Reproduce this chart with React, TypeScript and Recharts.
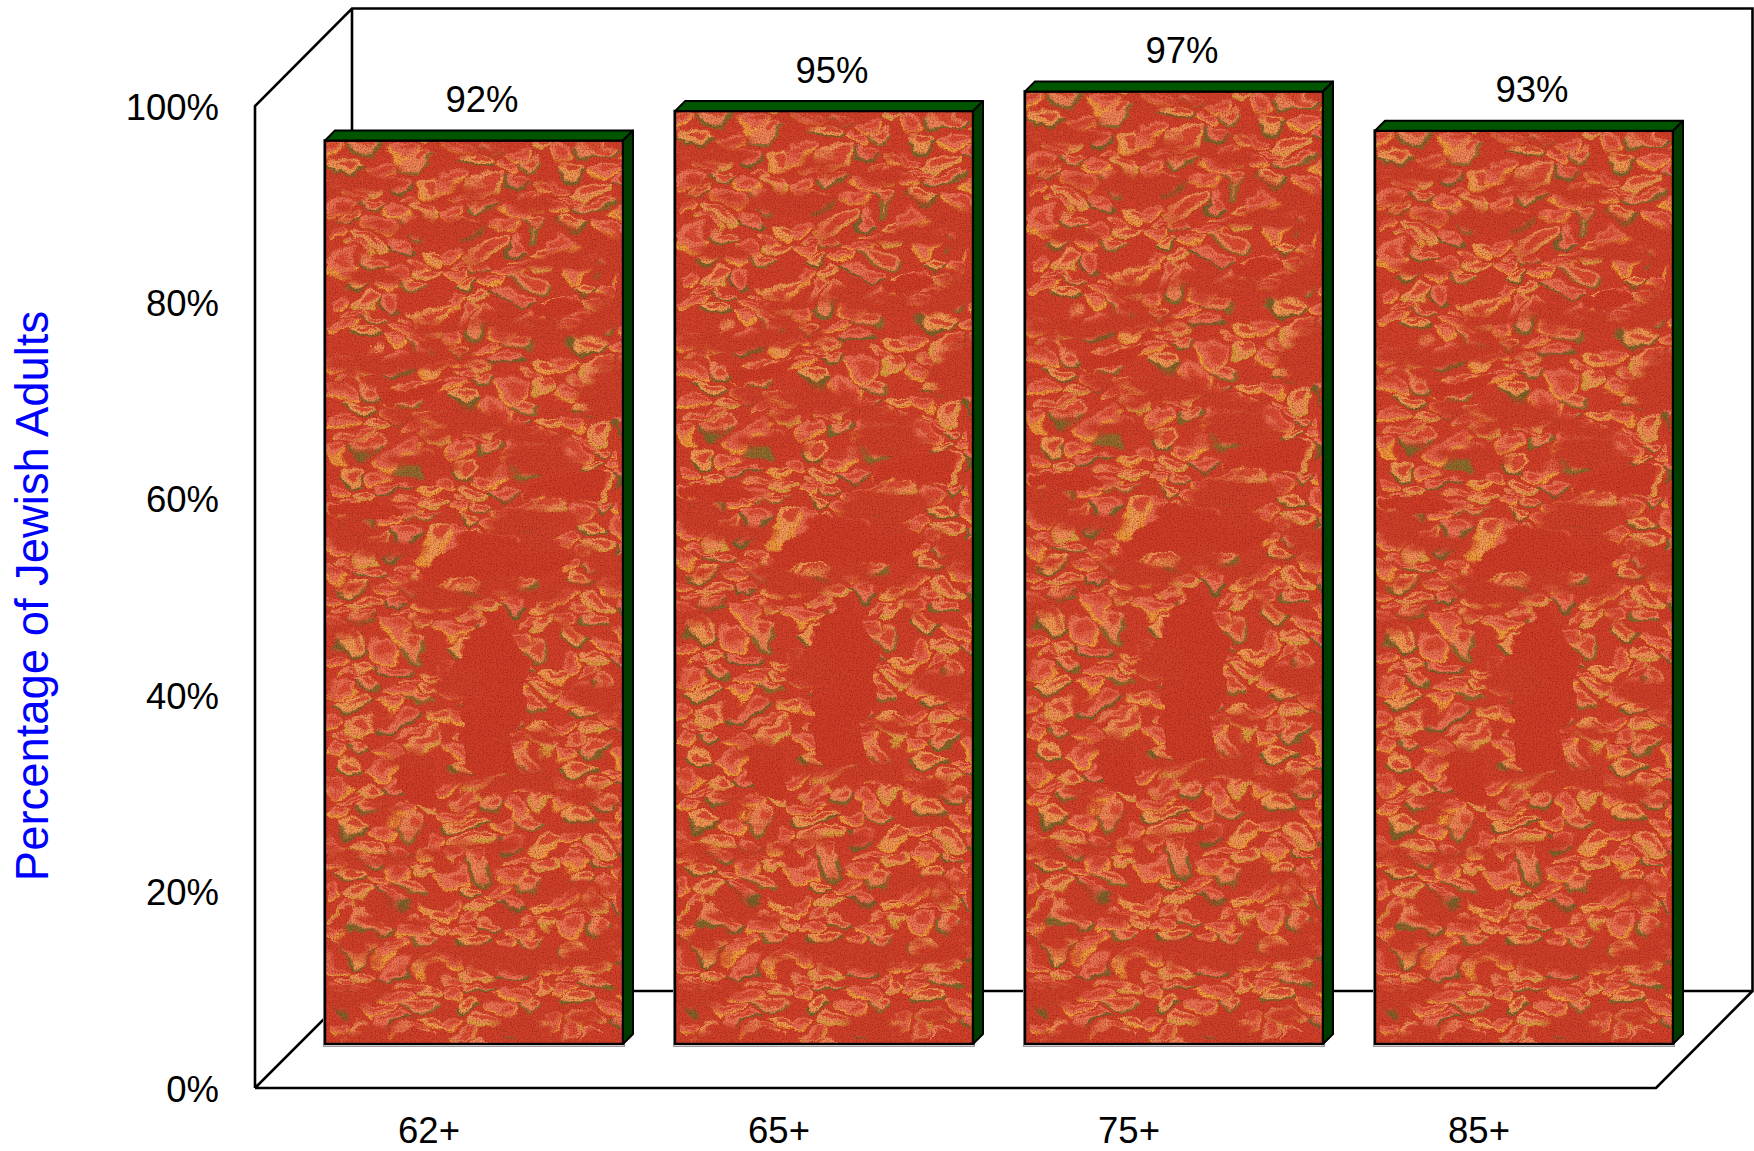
import { BarChart, Bar, XAxis, YAxis, LabelList } from 'recharts'

const ageGroups = ['62+', '65+', '75+', '85+']
const percentJewishAdults = [92, 95, 97, 93]
const yTicks = [0, 20, 40, 60, 80, 100]

const data = ageGroups.map((name, i) => ({ name, value: percentJewishAdults[i] }))

const FONT = '"Liberation Sans", Arial, sans-serif'
const DEPTH = 44 // bars stand this far behind the front plane
const TEX_W = 298
const TEX_H = 903

// one tile of the marbled paper: plume colour, crescent colour
const PLUMES: [number, number, number, number, string, string][] = [
  [18, 16, 20, 12, '#ec7454', '#ee9a3a'],
  [60, 10, 19, 11, '#ee8658', '#7d6a2a'],
  [102, 20, 22, 13, '#e96c50', '#f0a03c'],
  [142, 8, 18, 11, '#f09058', '#dba23e'],
  [38, 42, 21, 13, '#f09a54', '#7a6428'],
  [82, 46, 20, 12, '#ec7454', '#f0a03c'],
  [124, 40, 20, 13, '#ee8656', '#8a6e2c'],
  [12, 70, 19, 11, '#e96c50', '#ee9a3a'],
  [56, 76, 22, 13, '#f09058', '#dca23f'],
  [100, 72, 20, 12, '#ec7454', '#76642a'],
  [146, 76, 20, 12, '#f09a54', '#ee9a3a'],
  [34, 96, 18, 10, '#ea7a54', '#e0953a'],
  [122, 98, 19, 10, '#ec7e54', '#f0a03c'],
]

// large calm red areas of the sheet
const RED_AREAS: [number, number, number, number][] = [
  [165, 560, 34, 85],
  [95, 640, 24, 28],
  [175, 420, 70, 20],
  [40, 372, 34, 12],
  [240, 345, 34, 14],
  [90, 250, 34, 9],
  [230, 170, 30, 10],
]

function MarbleDefs() {
  return (
    <defs>
      <pattern
        id="scallops"
        width={160}
        height={100}
        patternUnits="userSpaceOnUse"
        patternTransform="scale(0.72 0.6)"
      >
        <rect width={160} height={100} fill="#d2412a" />
        {PLUMES.map(([x, y, rx, ry, fill, edge], i) => (
          <g key={i}>
            <ellipse cx={x} cy={y} rx={rx} ry={ry} fill={fill} />
            <ellipse cx={x + 3} cy={y - 3} rx={rx * 0.55} ry={ry * 0.4} fill="#dc4e33" />
            <path
              d={`M${x - rx} ${y - 1} Q${x} ${y + ry * 2.3} ${x + rx} ${y - 1}`}
              fill="none"
              stroke={edge}
              strokeWidth={4.5}
            />
          </g>
        ))}
      </pattern>
      <filter
        id="marble"
        filterUnits="userSpaceOnUse"
        x={0}
        y={0}
        width={TEX_W}
        height={TEX_H}
        colorInterpolationFilters="sRGB"
      >
        <feFlood floodColor="#d2412a" result="base" />
        <feTurbulence type="fractalNoise" baseFrequency="0.014 0.022" numOctaves={2} seed={4} result="warp" />
        <feDisplacementMap in="SourceGraphic" in2="warp" scale={50} xChannelSelector="R" yChannelSelector="G" result="swirl" />
        <feTurbulence type="fractalNoise" baseFrequency="0.07 0.09" numOctaves={2} seed={6} result="ripple" />
        <feDisplacementMap in="swirl" in2="ripple" scale={10} xChannelSelector="G" yChannelSelector="R" result="wavy" />
        <feGaussianBlur in="wavy" stdDeviation={0.7} result="soft" />
        <feTurbulence type="fractalNoise" baseFrequency="0.012 0.03" numOctaves={4} seed={9} result="patch" />
        <feColorMatrix in="patch" type="matrix" values="0 0 0 0 0.81  0 0 0 0 0.25  0 0 0 0 0.16  6 0 0 0 -3.1" result="wash" />
        <feTurbulence type="fractalNoise" baseFrequency="0.7" numOctaves={2} seed={2} result="grain" />
        <feColorMatrix in="grain" type="matrix" values="0 0 0 0 0.45  0 0 0 0 0.08  0 0 0 0 0.04  0 0 0 1.2 -0.5" result="speck" />
        <feMerge>
          <feMergeNode in="base" />
          <feMergeNode in="soft" />
          <feMergeNode in="wash" />
          <feMergeNode in="speck" />
        </feMerge>
      </filter>
    </defs>
  )
}

function MarbleBar({ x, y, width, height }: any) {
  const top = `M${x} ${y} L${x + 10} ${y - 10} H${x + width + 10} L${x + width} ${y} Z`
  const side = `M${x + width} ${y} L${x + width + 10} ${y - 10} V${y + height - 10} L${x + width} ${y + height} Z`
  return (
    <g>
      <rect x={x - 1.5} y={y - 1} width={width + 3} height={height + 3.5} fill="none" stroke="#9a9a9a" strokeWidth={1} />
      <g transform={`translate(${x} ${y}) scale(${width / TEX_W} ${height / TEX_H})`}>
        <g filter="url(#marble)">
          <rect width={TEX_W} height={TEX_H} fill="url(#scallops)" />
          {RED_AREAS.map(([cx, cy, rx, ry], i) => (
            <ellipse key={i} cx={cx} cy={cy} rx={rx} ry={ry} fill="#cf3d27" />
          ))}
        </g>
      </g>
      <rect x={x} y={y} width={width} height={height} fill="none" stroke="#000" strokeWidth={2.4} />
      <path d={top} fill="#005500" stroke="#000" strokeWidth={2} strokeLinejoin="round" />
      <path d={side} fill="#003c00" stroke="#000" strokeWidth={2} strokeLinejoin="round" />
    </g>
  )
}

function ValueLabel(props: any) {
  const box = props.viewBox ?? props
  return (
    <text x={box.x + box.width / 2 + 8} y={box.y - 28.5} textAnchor="middle" fontFamily={FONT} fontSize={36.5} fill="#000">
      {props.value}%
    </text>
  )
}

function PercentTick({ y, payload }: any) {
  return (
    <text x={219} y={y + DEPTH + 13.5} textAnchor="end" fontFamily={FONT} fontSize={36.5} fill="#000">
      {payload.value}%
    </text>
  )
}

function AgeTick({ x, payload }: any) {
  return (
    <text x={x - DEPTH - 1} y={1143} textAnchor="middle" fontFamily={FONT} fontSize={36.5} fill="#000">
      {payload.value}
    </text>
  )
}

function AxisTitle() {
  return (
    <text
      transform="translate(48 596) rotate(-90)"
      textAnchor="middle"
      fontFamily={FONT}
      fontSize={45.4}
      fill="#0000ff"
    >
      Percentage of Jewish Adults
    </text>
  )
}

export default function App() {
  return (
    <div style={{ position: 'absolute', left: 0, top: 0, width: 1754, height: 1151, background: '#fff' }}>
      <BarChart width={1754} height={1151} data={data} margin={{ top: 62, right: 55, bottom: 0, left: 0 }}>
        <MarbleDefs />
        {/* back walls and floor of the 3D box */}
        <path
          d="M255 1088 V106 L352 8.5 H1752.5 V991 H352 V8.5 M255 1088 L352 991 M255 1088 H1656 L1752.5 991"
          fill="none"
          stroke="#000"
          strokeWidth={2.6}
        />
        <XAxis dataKey="name" height={107} axisLine={false} tickLine={false} tick={<AgeTick />} interval={0} />
        <YAxis
          width={299}
          domain={[0, 100]}
          ticks={yTicks}
          axisLine={false}
          tickLine={false}
          tick={<PercentTick />}
          label={<AxisTitle />}
        />
        <Bar dataKey="value" barSize={298} shape={<MarbleBar />} isAnimationActive={false}>
          <LabelList dataKey="value" content={<ValueLabel />} />
        </Bar>
      </BarChart>
    </div>
  )
}
